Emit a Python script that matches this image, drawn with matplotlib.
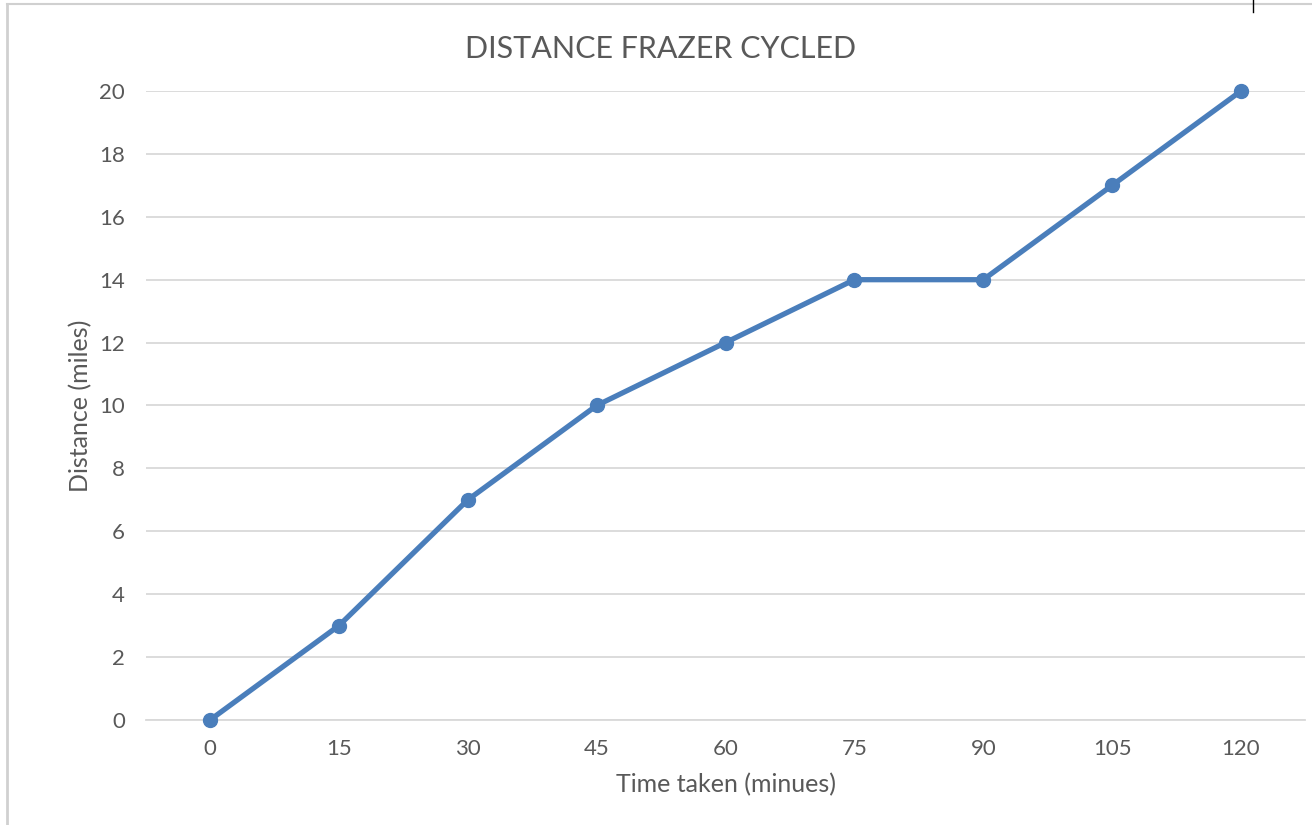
import matplotlib.pyplot as plt
from matplotlib.lines import Line2D

# data
time_labels = ["0", "15", "30", "45", "60", "75", "90", "105", "120"]
distance = [0, 3, 7, 10, 12, 14, 14, 17, 20]

plt.rcParams['font.family'] = ['Lato', 'DejaVu Sans']
text_grey = "#595959"
grid_grey = "#D9D9D9"
line_blue = "#4A7EBB"

fig = plt.figure(figsize=(13.12, 8.25), dpi=100)
ax = fig.add_axes([0.111, 0.1273, 0.884, 0.7624])

x = list(range(len(time_labels)))
ax.plot(x, distance, color=line_blue, linewidth=3.8, marker='o',
        markersize=10, solid_capstyle='round', zorder=3, clip_on=False)

ax.set_xlim(-0.5, len(time_labels) - 0.5)
ax.set_ylim(0, 20)
ax.set_yticks(range(0, 21, 2))
ax.set_xticks(x)
ax.set_xticklabels(time_labels)

ax.grid(axis='y', color=grid_grey, linewidth=1.3)
ax.set_axisbelow(True)
for side in ['top', 'right', 'left']:
    ax.spines[side].set_visible(False)
ax.spines['bottom'].set_color(grid_grey)
ax.spines['bottom'].set_linewidth(1.3)

ax.tick_params(axis='both', length=0, labelsize=16, labelcolor=text_grey)
ax.tick_params(axis='y', pad=15)
ax.tick_params(axis='x', pad=14)

fig.text(661 / 1312, 1 - 49 / 825, "DISTANCE FRAZER CYCLED", fontsize=22,
         color=text_grey, ha='center', va='center')
ax.set_xlabel("Time taken (minues)", fontsize=18, color=text_grey, labelpad=10)
ax.set_ylabel("Distance (miles)", fontsize=18, color=text_grey, labelpad=5)

# the chart frame edges visible in the screenshot
fig.add_artist(Line2D([7 / 1312, 7 / 1312], [0, 1 - 4 / 825], color="#D0D0D0", linewidth=2))
fig.add_artist(Line2D([7 / 1312, 1], [1 - 4 / 825, 1 - 4 / 825], color="#D0D0D0", linewidth=1.5))
fig.add_artist(Line2D([1253 / 1312, 1253 / 1312], [1 - 12 / 825, 1], color="black", linewidth=1))

fig.savefig("out.png", dpi=100, facecolor="white")
